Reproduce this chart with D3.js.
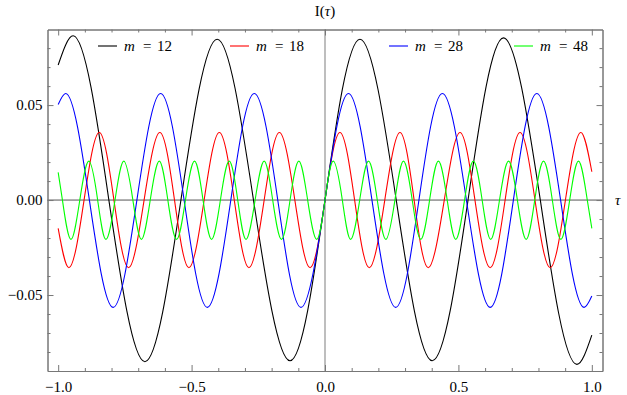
<!DOCTYPE html>
<html>
<head>
<meta charset="utf-8">
<script src="https://cdn.jsdelivr.net/npm/d3@7"></script>
<style>
  body { margin: 0; background: #fff; }
</style>
</head>
<body>
<div id="chart"></div>
<script>
// points: [tau, I] at the ends, extrema and zero crossings
const m12 = [
  [-1, 0.0711], [-0.944, 0.0865], [-0.81, 0], [-0.675, -0.0851], [-0.54, 0],
  [-0.404, 0.0847], [-0.268, 0], [-0.131, -0.0846], [0, 0], [0.131, 0.0847],
  [0.267, 0], [0.402, -0.0846], [0.536, 0], [0.669, 0.0854], [0.807, 0],
  [0.944, -0.0865], [1, -0.0711]
];
const m18 = [
  [-1, -0.0149], [-0.96, -0.0356], [-0.903, 0], [-0.846, 0.0356], [-0.791, 0],
  [-0.736, -0.0356], [-0.678, 0], [-0.619, 0.0356], [-0.564, 0], [-0.51, -0.0356],
  [-0.453, 0], [-0.396, 0.0356], [-0.34, 0], [-0.285, -0.0356], [-0.228, 0],
  [-0.171, 0.0356], [-0.113, 0], [-0.056, -0.0356], [0, 0], [0.056, 0.0356],
  [0.111, 0], [0.166, -0.0356], [0.224, 0], [0.281, 0.0356], [0.334, 0],
  [0.387, -0.0356], [0.447, 0], [0.506, 0.0356], [0.562, 0], [0.619, -0.0356],
  [0.675, 0], [0.731, 0.0356], [0.787, 0], [0.844, -0.0356], [0.901, 0],
  [0.959, 0.0356], [1, 0.0149]
];
const m28 = [
  [-1, 0.0503], [-0.972, 0.0561], [-0.883, 0], [-0.794, -0.0565], [-0.705, 0],
  [-0.616, 0.0561], [-0.528, 0], [-0.441, -0.0565], [-0.353, 0], [-0.265, 0.0561],
  [-0.177, 0], [-0.09, -0.0565], [0, 0], [0.088, 0.0561], [0.176, 0],
  [0.265, -0.0565], [0.352, 0], [0.44, 0.0561], [0.53, 0], [0.619, -0.0565],
  [0.706, 0], [0.794, 0.0561], [0.883, 0], [0.971, -0.0565], [1, -0.0505]
];
const m48 = [
  [-1, 0.0146], [-0.984, 0], [-0.952, -0.0207], [-0.919, 0], [-0.885, 0.0205],
  [-0.852, 0], [-0.821, -0.0207], [-0.787, 0], [-0.754, 0.0205], [-0.72, 0],
  [-0.688, -0.0207], [-0.655, 0], [-0.621, 0.0205], [-0.589, 0], [-0.556, -0.0207],
  [-0.523, 0], [-0.489, 0.0205], [-0.457, 0], [-0.425, -0.0207], [-0.392, 0],
  [-0.359, 0.0205], [-0.327, 0], [-0.296, -0.0207], [-0.262, 0], [-0.228, 0.0205],
  [-0.196, 0], [-0.163, -0.0207], [-0.131, 0], [-0.098, 0.0205], [-0.065, 0],
  [-0.031, -0.0207], [0, 0], [0.031, 0.0205], [0.065, 0], [0.096, -0.0207],
  [0.13, 0], [0.163, 0.0205], [0.196, 0], [0.228, -0.0207], [0.262, 0],
  [0.294, 0.0205], [0.327, 0], [0.359, -0.0207], [0.392, 0], [0.425, 0.0205],
  [0.458, 0], [0.49, -0.0207], [0.523, 0], [0.556, 0.0205], [0.589, 0],
  [0.621, -0.0207], [0.654, 0], [0.688, 0.0205], [0.721, 0], [0.754, -0.0207],
  [0.786, 0], [0.819, 0.0205], [0.852, 0], [0.884, -0.0207], [0.917, 0],
  [0.95, 0.0205], [0.983, 0], [1, -0.0149]
];

const seriesNames = ["12", "18", "28", "48"];
const seriesData = [m12, m18, m28, m48];
const seriesColors = ["#000000", "#ff0000", "#0000ff", "#00ff00"];

const xMajor = [-1, -0.5, 0, 0.5, 1];
const xMinor = [-0.9, -0.8, -0.7, -0.6, -0.4, -0.3, -0.2, -0.1, 0.1, 0.2, 0.3, 0.4, 0.6, 0.7, 0.8, 0.9];
const yMajor = [-0.05, 0, 0.05];
const yMinor = [-0.08, -0.07, -0.06, -0.04, -0.03, -0.02, -0.01, 0.01, 0.02, 0.03, 0.04, 0.06, 0.07, 0.08];

const width = 627, height = 395;
const frame = { left: 47.5, right: 602.5, top: 29.5, bottom: 371 };
const serif = '"Liberation Serif", "Times New Roman", "DejaVu Serif", serif';

const svg = d3.select("#chart").append("svg")
  .attr("width", width)
  .attr("height", height)
  .style("font-family", serif);

const x = d3.scaleLinear().domain([-1.04, 1.04]).range([frame.left, frame.right]);
const y = d3.scaleLinear().domain([-0.09, 0.0898]).range([frame.bottom, frame.top]);

const fmtX = d => d3.format(".1f")(d).replace("-", "\u2212");
const fmtY = d => d3.format(".2f")(d).replace("-", "\u2212");

// zero axes
svg.append("line")
  .attr("x1", x(0)).attr("x2", x(0))
  .attr("y1", frame.top).attr("y2", frame.bottom)
  .attr("stroke", "#a8a8a8").attr("stroke-width", 1.5);
svg.append("line")
  .attr("x1", frame.left).attr("x2", frame.right)
  .attr("y1", y(0)).attr("y2", y(0))
  .attr("stroke", "#555").attr("stroke-width", 1);

// curves: natural spline between the first and last zero crossing,
// monotone pieces at the two ends so the free ends do not overshoot
svg.append("clipPath").attr("id", "clip")
  .append("rect").attr("x", frame.left).attr("y", frame.top)
  .attr("width", frame.right - frame.left).attr("height", frame.bottom - frame.top);

const natural = d3.line().x(d => x(d[0])).y(d => y(d[1])).curve(d3.curveNatural);
const monotone = d3.line().x(d => x(d[0])).y(d => y(d[1])).curve(d3.curveMonotoneX);

const curvePath = pts => {
  let a = 1;
  while (pts[a][1] !== 0) a++;
  let b = pts.length - 2;
  while (pts[b][1] !== 0) b--;
  return monotone(pts.slice(0, a + 1)) + natural(pts.slice(a, b + 1)) + monotone(pts.slice(b));
};

svg.append("g").attr("clip-path", "url(#clip)")
  .selectAll("path")
  .data(seriesData)
  .join("path")
  .attr("d", curvePath)
  .attr("fill", "none")
  .attr("stroke", (d, i) => seriesColors[i])
  .attr("stroke-width", 1.1);

// frame with ticks on all sides
const styleAxis = g => {
  g.attr("font-family", null);
  g.selectAll(".domain").attr("stroke", "#777");
  g.selectAll(".tick line").attr("stroke", "#777");
  g.selectAll("text")
    .style("font-family", serif)
    .attr("font-size", 15)
    .attr("fill", "#000");
};

svg.append("g").attr("transform", `translate(0,${frame.bottom})`)
  .call(d3.axisBottom(x).tickValues(xMajor).tickFormat(fmtX).tickSizeInner(-6).tickSizeOuter(0).tickPadding(10))
  .call(styleAxis);
svg.append("g").attr("transform", `translate(0,${frame.bottom})`)
  .call(d3.axisBottom(x).tickValues(xMinor).tickFormat("").tickSizeInner(-3).tickSizeOuter(0))
  .call(styleAxis);
svg.append("g").attr("transform", `translate(0,${frame.top})`)
  .call(d3.axisTop(x).tickValues(xMajor).tickFormat("").tickSizeInner(-6).tickSizeOuter(0))
  .call(styleAxis);
svg.append("g").attr("transform", `translate(0,${frame.top})`)
  .call(d3.axisTop(x).tickValues(xMinor).tickFormat("").tickSizeInner(-3).tickSizeOuter(0))
  .call(styleAxis);

svg.append("g").attr("transform", `translate(${frame.left},0)`)
  .call(d3.axisLeft(y).tickValues(yMajor).tickFormat(fmtY).tickSizeInner(-6).tickSizeOuter(0).tickPadding(5))
  .call(styleAxis);
svg.append("g").attr("transform", `translate(${frame.left},0)`)
  .call(d3.axisLeft(y).tickValues(yMinor).tickFormat("").tickSizeInner(-3).tickSizeOuter(0))
  .call(styleAxis);
svg.append("g").attr("transform", `translate(${frame.right},0)`)
  .call(d3.axisRight(y).tickValues(yMajor).tickFormat("").tickSizeInner(-6).tickSizeOuter(0))
  .call(styleAxis);
svg.append("g").attr("transform", `translate(${frame.right},0)`)
  .call(d3.axisRight(y).tickValues(yMinor).tickFormat("").tickSizeInner(-3).tickSizeOuter(0))
  .call(styleAxis);

// axis labels
const title = svg.append("text")
  .attr("x", x(0)).attr("y", 16)
  .attr("text-anchor", "middle")
  .attr("font-size", 15);
title.append("tspan").text("I(");
title.append("tspan").attr("font-style", "italic").text("\u03c4");
title.append("tspan").text(")");

svg.append("text")
  .attr("x", 615).attr("y", 205)
  .attr("font-size", 15)
  .attr("font-style", "italic")
  .text("\u03c4");

// legend
const legendX = [98, 230, 389, 514];
const legendY = 46;
seriesNames.forEach((name, i) => {
  const g = svg.append("g").attr("transform", `translate(${legendX[i]},${legendY})`);
  g.append("line")
    .attr("x1", 0).attr("x2", 19)
    .attr("y1", 0).attr("y2", 0)
    .attr("stroke", seriesColors[i]).attr("stroke-width", 1.1);
  const t = g.append("text").attr("y", 5).attr("font-size", 15);
  t.append("tspan").attr("x", 26).attr("font-style", "italic").text("m");
  t.append("tspan").attr("x", 45).text("=");
  t.append("tspan").attr("x", 59).text(name);
});
</script>
</body>
</html>
